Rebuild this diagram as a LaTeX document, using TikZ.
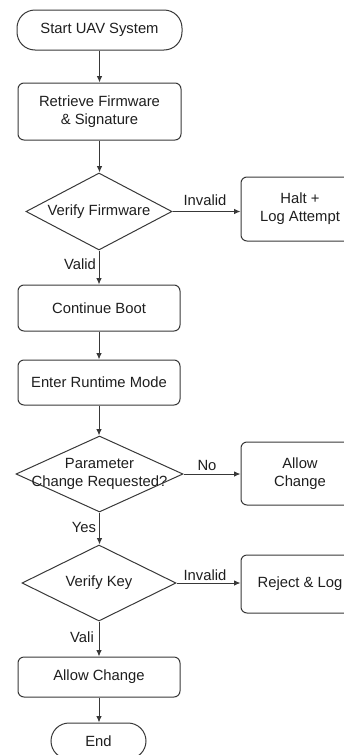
\documentclass[tikz,border=0pt]{standalone}
\usepackage{fontspec}
\setmainfont{Liberation Sans}
\usetikzlibrary{shapes.geometric,arrows.meta}
\definecolor{linegray}{HTML}{383838}
\definecolor{textgray}{HTML}{1E1E1E}
\tikzset{
  base/.style={draw=linegray, line width=1pt, text=textgray, inner sep=0pt,
    font=\fontsize{14.8}{18}\selectfont, align=center},
  pill/.style={base, rectangle, rounded corners=18pt},
  procbox/.style={base, rectangle, rounded corners=6pt},
  decision/.style={base, diamond, shape aspect=2},
  dtext/.style={text=textgray, font=\fontsize{14.8}{18.5}\selectfont, align=center, inner sep=0pt},
  edgelabel/.style={text=textgray, font=\fontsize{14.8}{18}\selectfont, inner sep=0pt},
  flow/.style={draw=linegray, line width=1pt, -{Latex[length=6.5pt,width=5.5pt]}}
}
\begin{document}
\begin{tikzpicture}[x=1pt,y=-1pt]
\useasboundingbox (0,0) rectangle (344,755);
\clip (0,0) rectangle (344,755);

% main column
\node[pill, minimum width=165pt, minimum height=40pt] (start) at (99.5,30) {Start UAV System};
\node[procbox, minimum width=163pt, minimum height=57pt] (fetch) at (99.5,111.5) {Retrieve Firmware\\\& Signature};
\node[decision, minimum width=146pt, minimum height=77pt] (vfw) at (99,211.5) {};
\node[dtext] (vfwt) at (vfw.center) {Verify Firmware};
\node[procbox, minimum width=162pt, minimum height=46pt] (boot) at (99,308) {Continue Boot};
\node[procbox, minimum width=162pt, minimum height=45pt] (runtime) at (99,382.5) {Enter Runtime Mode};
\node[decision, minimum width=167pt, minimum height=76pt] (param) at (99.5,474) {};
\node[dtext] (paramt) at (param.center) {Parameter\\Change Requested?};
\node[decision, minimum width=154pt, minimum height=76pt] (vkey) at (99,583) {};
\node[dtext] (vkeyt) at (vkey.center) {Verify Key};
\node[procbox, minimum width=162pt, minimum height=40pt] (allow) at (99,677) {Allow Change};
\node[pill, minimum width=95pt, minimum height=36pt] (stop) at (98.5,741) {End};

% side branch
\node[procbox, minimum width=118pt, minimum height=64pt] (halt) at (300,209) {Halt +\\Log Attempt};
\node[procbox, minimum width=118pt, minimum height=63pt] (allowside) at (300,473.5) {Allow\\Change};
\node[procbox, minimum width=118pt, minimum height=58pt] (reject) at (300,584) {Reject \& Log};

% vertical flow
\draw[flow] (start.south) -- (start.south |- fetch.north);
\draw[flow] (fetch.south) -- (fetch.south |- vfw.north);
\draw[flow] (vfw.south) -- (vfw.south |- boot.north);
\draw[flow] (boot.south) -- (boot.south |- runtime.north);
\draw[flow] (runtime.south) -- (runtime.south |- param.north);
\draw[flow] (param.south) -- (param.south |- vkey.north);
\draw[flow] (vkey.south) -- (vkey.south |- allow.north);
\draw[flow] (allow.south) -- (allow.south |- stop.north);

% horizontal branches
\draw[flow] (vfw.east) -- (vfw.east -| halt.west);
\draw[flow] (param.east) -- (param.east -| allowside.west);
\draw[flow] (vkey.east) -- (vkey.east -| reject.west);

% branch labels
\node[edgelabel] (linv1) at (205,200) {Invalid};
\node[edgelabel] (lval1) at (80,264) {Valid};
\node[edgelabel] (lno) at (207,465) {No};
\node[edgelabel] (lyes) at (84,527) {Yes};
\node[edgelabel] (linv2) at (205,575) {Invalid};
\node[edgelabel] (lval2) at (82,637) {Vali};
\end{tikzpicture}
\end{document}
